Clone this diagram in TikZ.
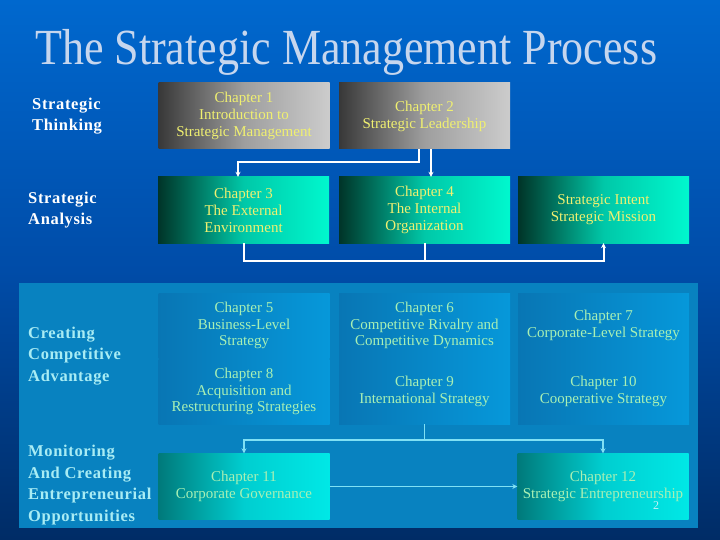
\documentclass[tikz,border=0pt]{standalone}
\usepackage{fontspec}
\setmainfont{Liberation Serif}
\usetikzlibrary{arrows.meta}
\definecolor{bgtop}{HTML}{0068CE}
\definecolor{bgmid}{HTML}{004CA8}
\definecolor{bgbot}{HTML}{002C66}
\definecolor{panel}{HTML}{0882C0}
\definecolor{titlec}{HTML}{C6D6EE}
\definecolor{yelc}{HTML}{F0F070}
\definecolor{grnc}{HTML}{A8F0B4}
\definecolor{cyanc}{HTML}{A8ECF4}
\definecolor{linec}{HTML}{80E0F4}
\newcommand{\chap}[5]{\node[#1] (#2) at ( #3 , #4 ) {#5};}
\newcommand{\lablstage}[5]{\node[stage,text=#1] (#2) at ( #3 , #4 ) {#5};}
\tikzset{
  chapbox/.style={rectangle,draw=none,inner sep=0pt,minimum width=171pt,minimum height=66pt,
    align=center,font=\fontsize{15}{17}\selectfont},
  greybox/.style={chapbox,left color=black!78,right color=black!20,middle color=black!38,text=yelc},
  tealbox/.style={chapbox,left color={rgb,255:red,0;green,52;blue,40},right color={rgb,255:red,0;green,248;blue,206},
    middle color={rgb,255:red,0;green,200;blue,168},text=yelc},
  bluebox/.style={chapbox,minimum height=65pt,left color={rgb,255:red,8;green,118;blue,180},
    right color={rgb,255:red,6;green,152;blue,218},text=grnc,font=\fontsize{15}{16.5}\selectfont},
  cyanbox/.style={chapbox,left color={rgb,255:red,0;green,122;blue,122},right color={rgb,255:red,0;green,232;blue,230},
    middle color={rgb,255:red,0;green,206;blue,208},text=grnc},
  stage/.style={anchor=west,align=left,inner sep=0pt,
    font=\fontsize{16.5}{21.5}\selectfont\bfseries\addfontfeature{LetterSpace=4}},
  wline/.style={draw=white,line width=2pt},
  warr/.style={wline,-{Stealth[length=5pt,width=5pt]}},
  cline/.style={draw=linec,line width=1.7pt},
  carr/.style={cline,-{Stealth[length=5pt,width=5pt]}}
}
\begin{document}
\begin{tikzpicture}[x=1pt,y=-1pt]
  \useasboundingbox (0,0) rectangle (720,540);
  \fill[top color=bgtop,bottom color=bgbot,middle color=bgmid] (0,0) rectangle (720,540);
  \fill[panel] (19,283) rectangle (698,528);

  \node[anchor=base west,inner sep=0pt,text=titlec,font=\fontsize{44}{44}\selectfont] (title) at (35,65)
    {\scalebox{1}[1.15]{The Strategic Management Process}};

  % stages
  \lablstage{white}{think}{32}{116}{Strategic\\Thinking}
  \lablstage{white}{analy}{28}{210}{Strategic\\Analysis}
  \lablstage{cyanc}{advan}{28}{356}{Creating\\Competitive\\Advantage}
  \lablstage{cyanc}{monit}{28}{485}{Monitoring\\And Creating\\Entrepreneurial\\Opportunities}

  % row 1
  \chap{greybox}{ch1}{244}{116}{Chapter 1\\Introduction to\\Strategic Management}
  \chap{greybox}{ch2}{424.5}{116}{Chapter 2\\Strategic Leadership}

  % row 2
  \chap{tealbox}{ch3}{243.5}{210}{Chapter 3\\The External\\Environment}
  \chap{tealbox}{ch4}{424.5}{210}{Chapter 4\\The Internal\\Organization}
  \chap{tealbox}{intent}{603.5}{210}{Strategic Intent\\Strategic Mission}

  % rows 3 and 4
  \chap{bluebox}{ch5}{244}{325.5}{Chapter 5\\Business-Level\\Strategy}
  \chap{bluebox}{ch6}{424.5}{325.5}{Chapter 6\\Competitive Rivalry and\\Competitive Dynamics}
  \chap{bluebox}{ch7}{603.5}{325.5}{Chapter 7\\Corporate-Level Strategy}
  \chap{bluebox}{ch8}{244}{391.5}{Chapter 8\\Acquisition and\\Restructuring Strategies}
  \chap{bluebox}{ch9}{424.5}{391.5}{Chapter 9\\International Strategy}
  \chap{bluebox}{ch10}{603.5}{391.5}{Chapter 10\\Cooperative Strategy}

  % row 5
  \chap{cyanbox}{ch11}{244}{486.5}{Chapter 11\\Corporate Governance}
  \chap{cyanbox}{ch12}{603}{486.5}{Chapter 12\\Strategic Entrepreneurship}
  \node[inner sep=0pt,text=cyanc!70!white,font=\fontsize{12}{12}\selectfont] (pagenum) at (656,506) {2};

  % connectors
  \draw[warr] ([xshift=-5.5pt]ch2.south) -- ++(0,13) -| ([xshift=-5.5pt]ch3.north);
  \draw[warr] ([xshift=6.5pt]ch2.south) -- ([xshift=6.5pt]ch4.north);
  \draw[warr] (ch3.south) -- ++(0,18) -| (intent.south);
  \draw[wline] (ch4.south) -- ++(0,18);
  \draw[cline] (ch9.south) -- ++(0,16) coordinate (split);
  \draw[carr] (split) -| (ch11.north);
  \draw[carr] (split) -| (ch12.north);
  \draw[carr] (ch11.east) -- (ch12.west);
\end{tikzpicture}
\end{document}
